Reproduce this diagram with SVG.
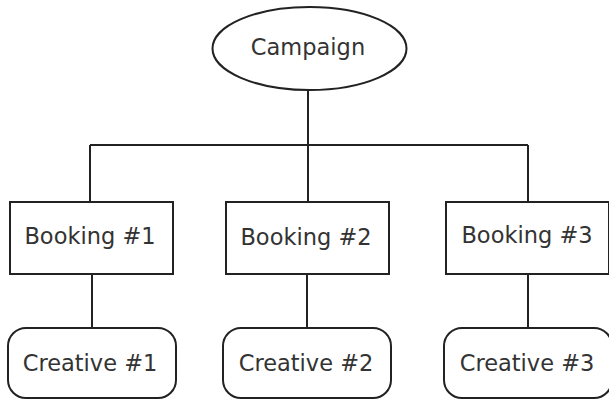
<svg xmlns="http://www.w3.org/2000/svg" width="609" height="400" viewBox="0 0 609 400">
  <style>
    .shape { fill: #ffffff; stroke: #222222; stroke-width: 2; }
    .wire { fill: none; stroke: #222222; stroke-width: 2; }
    .label { font-family: "DejaVu Sans", "Noto Sans", sans-serif; font-size: 22.5px; fill: #333333; text-anchor: middle; }
  </style>
  <rect width="609" height="400" fill="#ffffff"/>

  <!-- connectors -->
  <g id="connectors">
    <path class="wire" d="M308 90 V145"/>
    <path class="wire" d="M90 145 H528"/>
    <path class="wire" d="M90 145 V202"/>
    <path class="wire" d="M308 145 V202"/>
    <path class="wire" d="M528 145 V202"/>
    <path class="wire" d="M92 274 V328"/>
    <path class="wire" d="M307 274 V328"/>
    <path class="wire" d="M528 274 V328"/>
  </g>

  <g id="campaign">
    <ellipse class="shape" cx="309.5" cy="48.5" rx="97" ry="41.5"/>
    <text class="label" x="308" y="55">Campaign</text>
  </g>

  <g id="booking1">
    <rect class="shape" x="10" y="202" width="163" height="72"/>
    <text class="label" x="90" y="243.5">Booking #1</text>
  </g>
  <g id="booking2">
    <rect class="shape" x="226" y="202" width="163" height="72"/>
    <text class="label" x="306" y="245">Booking #2</text>
  </g>
  <g id="booking3">
    <rect class="shape" x="446" y="202" width="163" height="72"/>
    <text class="label" x="527" y="243">Booking #3</text>
  </g>

  <g id="creative1">
    <rect class="shape" x="8" y="328" width="168" height="70" rx="18" ry="18"/>
    <text class="label" x="90" y="370.5">Creative #1</text>
  </g>
  <g id="creative2">
    <rect class="shape" x="223" y="328" width="168" height="70" rx="18" ry="18"/>
    <text class="label" x="306" y="370.5">Creative #2</text>
  </g>
  <g id="creative3">
    <rect class="shape" x="444" y="328" width="168" height="70" rx="18" ry="18"/>
    <text class="label" x="527" y="370.5">Creative #3</text>
  </g>
</svg>
